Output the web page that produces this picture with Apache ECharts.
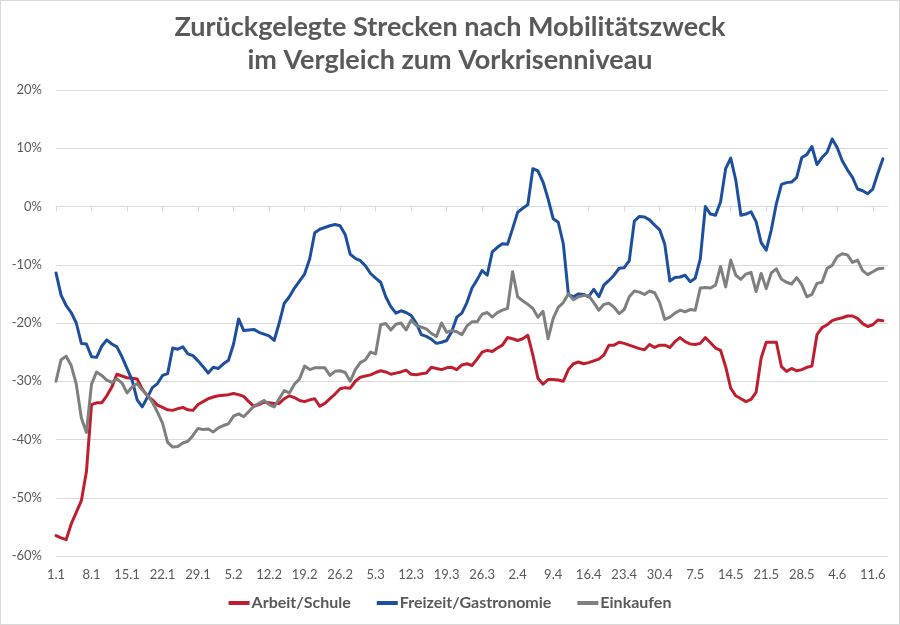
<!DOCTYPE html>
<html><head><meta charset="utf-8">
<script src="https://cdn.jsdelivr.net/npm/echarts@6/dist/echarts.min.js"></script>
<style>html,body{margin:0;padding:0;background:#fff}#c{width:898px;height:623px;border:1px solid #d9d9d9}</style>
</head><body><div id="c"></div>
<script>
const dates = ("1.1 2.1 3.1 4.1 5.1 6.1 7.1 8.1 9.1 10.1 11.1 12.1 13.1 14.1 15.1 16.1 17.1 18.1 19.1 20.1 21.1 22.1 23.1 24.1 25.1 26.1 27.1 28.1 29.1 30.1 31.1 " +
 "1.2 2.2 3.2 4.2 5.2 6.2 7.2 8.2 9.2 10.2 11.2 12.2 13.2 14.2 15.2 16.2 17.2 18.2 19.2 20.2 21.2 22.2 23.2 24.2 25.2 26.2 27.2 28.2 " +
 "1.3 2.3 3.3 4.3 5.3 6.3 7.3 8.3 9.3 10.3 11.3 12.3 13.3 14.3 15.3 16.3 17.3 18.3 19.3 20.3 21.3 22.3 23.3 24.3 25.3 26.3 27.3 28.3 29.3 30.3 31.3 " +
 "1.4 2.4 3.4 4.4 5.4 6.4 7.4 8.4 9.4 10.4 11.4 12.4 13.4 14.4 15.4 16.4 17.4 18.4 19.4 20.4 21.4 22.4 23.4 24.4 25.4 26.4 27.4 28.4 29.4 30.4 " +
 "1.5 2.5 3.5 4.5 5.5 6.5 7.5 8.5 9.5 10.5 11.5 12.5 13.5 14.5 15.5 16.5 17.5 18.5 19.5 20.5 21.5 22.5 23.5 24.5 25.5 26.5 27.5 28.5 29.5 30.5 31.5 " +
 "1.6 2.6 3.6 4.6 5.6 6.6 7.6 8.6 9.6 10.6 11.6 12.6 13.6 14.6").split(" ");

const arbeitSchule = [
-56.5,-56.9,-57.2,-54.5,-52.5,-50.5,-45.5,-34,-33.7,-33.7,
-32.5,-31,-28.8,-29.1,-29.4,-29.5,-29.6,-31.3,-32.5,-33.2,
-34.1,-34.5,-34.9,-35,-34.7,-34.5,-34.9,-35,-34,-33.5,
-33,-32.7,-32.5,-32.4,-32.3,-32.1,-32.3,-32.6,-33.5,-34.3,
-34,-33.6,-33.7,-33.8,-33.8,-33,-32.5,-32.8,-33.3,-33.5,
-33.2,-33,-34.3,-33.8,-33,-32.2,-31.3,-31.1,-31.2,-30,
-29.3,-29.1,-28.9,-28.5,-28.2,-28.4,-28.8,-28.6,-28.4,-28.1,
-28.8,-28.9,-28.7,-28.6,-27.6,-27.8,-28,-27.7,-27.6,-28,
-27.2,-27,-27.3,-26.2,-25,-24.7,-24.9,-24.3,-23.8,-22.5,
-22.7,-23,-22.7,-22.1,-25.5,-29.5,-30.5,-29.7,-29.7,-29.8,
-30,-28,-27,-26.7,-27,-26.8,-26.5,-26.2,-25.5,-23.8,
-23.8,-23.3,-23.5,-23.8,-24.1,-24.4,-24.6,-23.7,-24.2,-23.8,
-23.8,-24.2,-23.2,-22.5,-23.2,-23.6,-23.7,-23.5,-22.5,-23.4,
-24.3,-24.7,-27.5,-31.2,-32.5,-33,-33.5,-33.1,-31.9,-26,
-23.3,-23.3,-23.3,-27.5,-28.3,-27.8,-28.2,-28,-27.6,-27.4,
-22,-20.8,-20.3,-19.6,-19.3,-19.1,-18.8,-18.8,-19.2,-20.1,
-20.6,-20.3,-19.5,-19.6,null];

const freizeitGastronomie = [
-11.4,-15.2,-17,-18.2,-20,-23.5,-23.6,-25.8,-25.9,-24,
-22.9,-23.6,-24.1,-25.8,-27.8,-29.8,-33.2,-34.4,-32.8,-31.1,
-30.4,-29,-28.7,-24.3,-24.5,-24.1,-25.3,-25.6,-26.5,-27.5,
-28.6,-27.6,-27.8,-27,-26.4,-23.6,-19.3,-21.3,-21.2,-21.1,
-21.6,-21.9,-22.2,-23,-20,-16.6,-15.5,-14,-12.8,-11.6,
-9,-4.5,-3.9,-3.6,-3.3,-3.1,-3.3,-4.8,-8.2,-8.9,
-9.3,-10.2,-11.5,-12.3,-13,-15.5,-17.2,-18.3,-17.9,-18.2,
-18.7,-20,-22,-22.3,-22.8,-23.5,-23.3,-23,-21.5,-19,
-18.3,-16.5,-14,-12.6,-11,-11.8,-7.8,-7,-6.4,-6.5,
-3.8,-1,-0.3,0.3,6.5,6.1,4.2,1.3,-2.1,-2.7,
-6.4,-15.1,-15.5,-15,-15.1,-15.5,-14.2,-15.5,-13.5,-12.7,
-11.8,-10.6,-10.5,-9.3,-2.5,-1.7,-1.8,-2.3,-3.2,-4,
-6.5,-12.8,-12.2,-12.1,-11.8,-12.9,-12.3,-9,0,-1.3,
-1.5,0.8,6.5,8.3,4.5,-1.5,-1.3,-0.9,-2.6,-6.2,
-7.5,-4,0.5,3.8,4.1,4.2,5,8.4,8.9,10.3,
7.2,8.4,9.3,11.6,10.1,7.8,6.3,5,3,2.7,
2.2,3,5.7,8.2,null];

const einkaufen = [
-30,-26.3,-25.7,-27.3,-30.5,-36.3,-38.8,-30.5,-28.4,-29,
-29.8,-30.2,-29.6,-30.3,-32,-31,-30.4,-31.5,-32.4,-33.6,
-35.3,-37.2,-40.5,-41.3,-41.2,-40.6,-40.3,-39.3,-38.1,-38.3,
-38.2,-38.7,-38,-37.6,-37.3,-36,-35.6,-36.1,-35.2,-34.3,
-33.8,-33.3,-34,-34.4,-33,-31.6,-32,-30.5,-29.6,-27.4,
-28,-27.7,-27.7,-27.7,-29,-28.3,-28.2,-28.5,-30,-28,
-26.8,-26.3,-25,-25.3,-20.3,-20.1,-21.2,-20.2,-20,-21.2,
-19.5,-20.4,-20.7,-21,-21.8,-22.3,-20,-21.6,-21.3,-21.5,
-22,-20.5,-19.8,-19.8,-18.5,-18.2,-19,-18.2,-17.8,-17.5,
-11.2,-15.5,-16.2,-16.8,-17.5,-19,-18,-22.7,-19.2,-17.3,
-16.5,-15,-16,-15.5,-15.3,-15.3,-16.5,-17.8,-16.8,-16.6,
-17.3,-18.4,-17.7,-15.5,-14.5,-14.7,-15.1,-14.5,-14.8,-16.5,
-19.4,-19,-18.3,-17.8,-18.1,-17.7,-17.8,-14,-13.9,-14,
-13.5,-10.3,-13.8,-9.2,-11.8,-12.5,-11.6,-11.3,-14.6,-11.5,
-14.1,-11.4,-10.7,-12.5,-13,-13.3,-12.2,-13.4,-15.5,-15.1,
-13.2,-13,-10.6,-10.1,-8.6,-8.1,-8.3,-9.6,-9.2,-11,
-11.7,-11.2,-10.7,-10.6,null];

const seriesNames = ["Arbeit/Schule", "Freizeit/Gastronomie", "Einkaufen"];
const seriesColors = ["#BE1E2D", "#1C4F9E", "#7F7F7F"];
const seriesData = [arbeitSchule, freizeitGastronomie, einkaufen];

const chart = echarts.init(document.getElementById('c'), null, {renderer: 'canvas'});
const txt = '#595959';
chart.setOption({
  animation: false,
  backgroundColor: '#fff',
  title: {
    text: 'Zurückgelegte Strecken nach Mobilitätszweck\nim Vergleich zum Vorkrisenniveau',
    left: 'center', top: 5,
    textStyle: {fontFamily: 'Lato', fontWeight: 'bold', fontSize: 27, color: txt, lineHeight: 33}
  },
  legend: {
    bottom: 8, left: 'center', itemGap: 26, itemWidth: 21, itemHeight: 4, icon: 'rect',
    textStyle: {fontFamily: 'Lato', fontWeight: 'bold', fontSize: 16, color: txt, padding: [0,0,0,-3]},
    data: seriesNames
  },
  grid: {left: 55, right: 11, top: 89, bottom: 68},
  xAxis: [{
    type: 'category', data: dates, boundaryGap: false,
    axisLine: {show: false, onZero: false}, axisTick: {show: false},
    axisLabel: {interval: 6, color: txt, fontFamily: 'Lato', fontSize: 13, margin: 12},
    splitLine: {show: false}
  }, {
    type: 'category', data: dates, boundaryGap: false, position: 'bottom',
    axisLine: {show: true, onZero: true, lineStyle: {color: '#d9d9d9', width: 1}},
    axisTick: {show: true, interval: 6, length: 5, lineStyle: {color: '#d9d9d9'}},
    axisLabel: {show: false}, splitLine: {show: false}
  }],
  yAxis: {
    type: 'value', min: -60, max: 20, interval: 10,
    axisLine: {show: false}, axisTick: {show: false},
    axisLabel: {formatter: v => v + '%', color: txt, fontFamily: 'Lato', fontSize: 13, margin: 14},
    splitLine: {lineStyle: {color: '#d9d9d9', width: 1}}
  },
  series: seriesNames.map((n, i) => ({
    name: n, type: 'line', data: seriesData[i], xAxisIndex: 0,
    showSymbol: false, symbol: 'none', smooth: false,
    lineStyle: {color: seriesColors[i], width: 3, cap: 'round', join: 'round'},
    itemStyle: {color: seriesColors[i]}
  }))
});
</script></body></html>
